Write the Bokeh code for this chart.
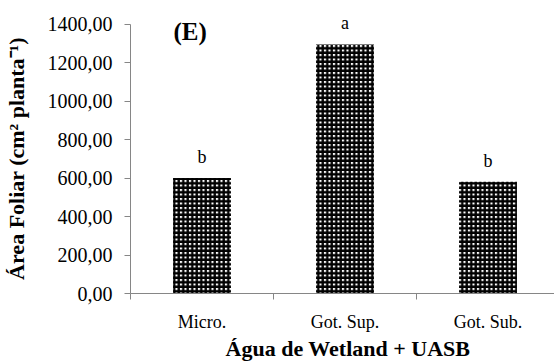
from bokeh.plotting import figure
from bokeh.models import ColumnDataSource, FixedTicker, Range1d, LabelSet, Label
from bokeh.embed import file_html
from bokeh.resources import INLINE

categories = ["Micro.", "Got. Sup.", "Got. Sub."]
values = [601, 1296, 581]
letters = ["b", "a", "b"]
yticks = [0, 200, 400, 600, 800, 1000, 1200, 1400]
ytick_labels = ["0,00", "200,00", "400,00", "600,00", "800,00", "1000,00", "1200,00", "1400,00"]
panel_tag = "(E)"
x_title = "Água de Wetland + UASB"
y_title = "Área Foliar (cm² planta⁻¹)"

FONT = "'Liberation Serif', serif"
AXIS_COLOR = "#868686"
NB = "\u00a0"

xpos = list(range(len(categories)))
src = ColumnDataSource(dict(x=xpos, top=values, lab=letters))

# frame: y=0 at 294px, y=1400 at 24px; frame top at 12px
p = figure(width=554, height=363, output_backend="svg", toolbar_location=None,
           x_range=Range1d(-0.5, 2.465), y_range=Range1d(0, 1462.2),
           min_border_left=130, min_border_right=0, min_border_top=12, min_border_bottom=69)
p.outline_line_color = None
p.xgrid.visible = False
p.ygrid.visible = False

p.vbar(x="x", top="top", width=0.405, source=src, fill_color="white", line_color=None,
       hatch_pattern="cross", hatch_color="black", hatch_scale=4.5, hatch_weight=2.3)

labels = LabelSet(x="x", y="top", text="lab", source=src, text_align="center",
                  text_baseline="bottom", y_offset=11, text_font=FONT,
                  text_font_size="18px", text_color="black")
p.add_layout(labels)

tag = Label(x=-0.2, y=1400, text=panel_tag, text_font=FONT, text_font_size="25px",
            text_font_style="bold", text_baseline="middle", text_align="left",
            y_offset=-7, text_color="black")
p.add_layout(tag)

# y axis
ya = p.yaxis[0]
ya.ticker = FixedTicker(ticks=yticks)
ya.bounds = (0, 1400)
ya.major_label_overrides = {t: l for t, l in zip(yticks, ytick_labels)}
ya.axis_line_color = AXIS_COLOR
ya.major_tick_line_color = AXIS_COLOR
ya.major_tick_out = 6
ya.major_tick_in = 0
ya.minor_tick_line_color = None
ya.major_label_standoff = 12
ya.major_label_text_font = FONT
ya.major_label_text_font_size = "20px"
ya.major_label_text_color = "black"
ya.axis_label = y_title + NB * 2
ya.axis_label_text_font = FONT
ya.axis_label_text_font_size = "22px"
ya.axis_label_text_font_style = "bold"
ya.axis_label_text_color = "black"
ya.axis_label_standoff = 16

# x axis
xa = p.xaxis[0]
xa.ticker = FixedTicker(ticks=xpos, minor_ticks=[-0.5, 0.5, 1.5, 2.5])
xa.major_label_overrides = {i: c for i, c in zip(xpos, categories)}
xa.axis_line_color = AXIS_COLOR
xa.major_tick_line_color = None
xa.major_tick_out = 0
xa.major_tick_in = 0
xa.minor_tick_line_color = AXIS_COLOR
xa.minor_tick_out = 6
xa.minor_tick_in = 0
xa.major_label_standoff = 12
xa.major_label_text_font = FONT
xa.major_label_text_font_size = "18px"
xa.major_label_text_color = "black"
xa.axis_label = NB * 2 + x_title
xa.axis_label_text_font = FONT
xa.axis_label_text_font_size = "22px"
xa.axis_label_text_font_style = "bold"
xa.axis_label_text_color = "black"
xa.axis_label_standoff = 1

open("out.html", "w").write(file_html(p, INLINE))
